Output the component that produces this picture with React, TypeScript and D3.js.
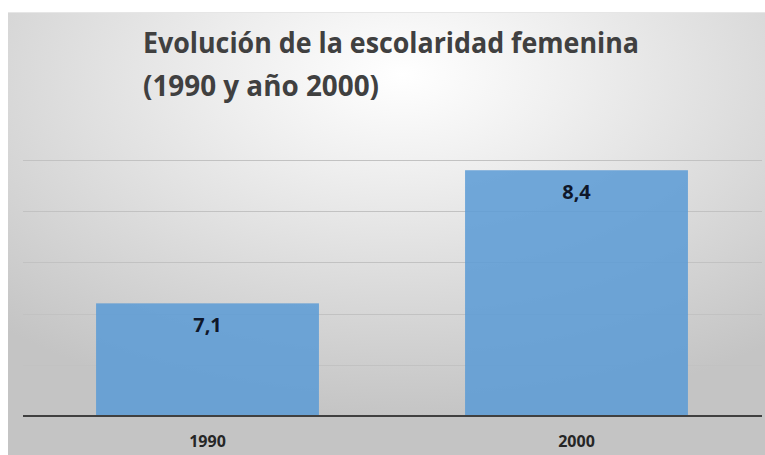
import React from "react";
import * as d3 from "d3";

const categories = ["1990", "2000"];
const values = [7.1, 8.4];
const valueLabels = ["7,1", "8,4"];
const gridValues = [6.5, 7, 7.5, 8, 8.5];
const titleLines = ["Evolución de la escolaridad femenina", "(1990 y año 2000)"];

const W = 765;
const H = 455;
const FONT = "'Open Sans', 'DejaVu Sans', sans-serif";

export default function App() {
  const x = d3
    .scaleBand<string>()
    .domain(categories)
    .range([23, 761])
    .paddingInner(0.396)
    .paddingOuter(0.198);
  const y = d3.scaleLinear().domain([6, 8.5]).range([416, 160]);

  return (
    <svg
      width={W}
      height={H}
      viewBox={`0 0 ${W} ${H}`}
      style={{ position: "absolute", left: 0, top: 0, display: "block" }}
    >
      <defs>
        <radialGradient id="bg" cx="52%" cy="14%" r="78%" fx="52%" fy="14%">
          <stop offset="0%" stopColor="#ffffff" />
          <stop offset="30%" stopColor="#eeeeee" />
          <stop offset="100%" stopColor="#c4c4c4" />
        </radialGradient>
      </defs>
      <rect x={0} y={0} width={W} height={H} fill="#ffffff" />
      <rect x={8} y={12} width={W - 8} height={H - 12} fill="url(#bg)" />
      <line x1={8} x2={W} y1={12.5} y2={12.5} stroke="#e6e6e6" strokeWidth={1} />

      <text fontFamily={FONT} fontWeight={700} fill="#404040" fontSize={28}>
        <tspan x={143} y={53} textLength={496} lengthAdjust="spacingAndGlyphs">
          {titleLines[0]}
        </tspan>
        <tspan x={143} y={96} textLength={236} lengthAdjust="spacingAndGlyphs">
          {titleLines[1]}
        </tspan>
      </text>

      {gridValues.map((g) => (
        <line
          key={g}
          x1={23}
          x2={762}
          y1={Math.round(y(g)) + 0.5}
          y2={Math.round(y(g)) + 0.5}
          stroke="#c2c2c2"
          strokeWidth={1}
        />
      ))}

      {categories.map((c, i) => (
        <rect
          key={c}
          x={x(c)!}
          y={y(values[i])}
          width={x.bandwidth()}
          height={y(6) - y(values[i])}
          fill="#5b9bd5"
          fillOpacity={0.86}
        />
      ))}

      <line x1={23} x2={762} y1={416} y2={416} stroke="#404040" strokeWidth={2} />

      {categories.map((c, i) => (
        <text
          key={"v" + c}
          x={x(c)! + x.bandwidth() / 2}
          y={y(values[i]) + 29}
          textAnchor="middle"
          fontFamily={FONT}
          fontWeight={700}
          fontSize={20}
          fill="#0f172a"
        >
          {valueLabels[i]}
        </text>
      ))}

      {categories.map((c) => (
        <text
          key={"c" + c}
          x={x(c)! + x.bandwidth() / 2}
          y={447}
          textAnchor="middle"
          fontFamily={FONT}
          fontWeight={700}
          fontSize={16}
          fill="#262626"
        >
          {c}
        </text>
      ))}
    </svg>
  );
}
